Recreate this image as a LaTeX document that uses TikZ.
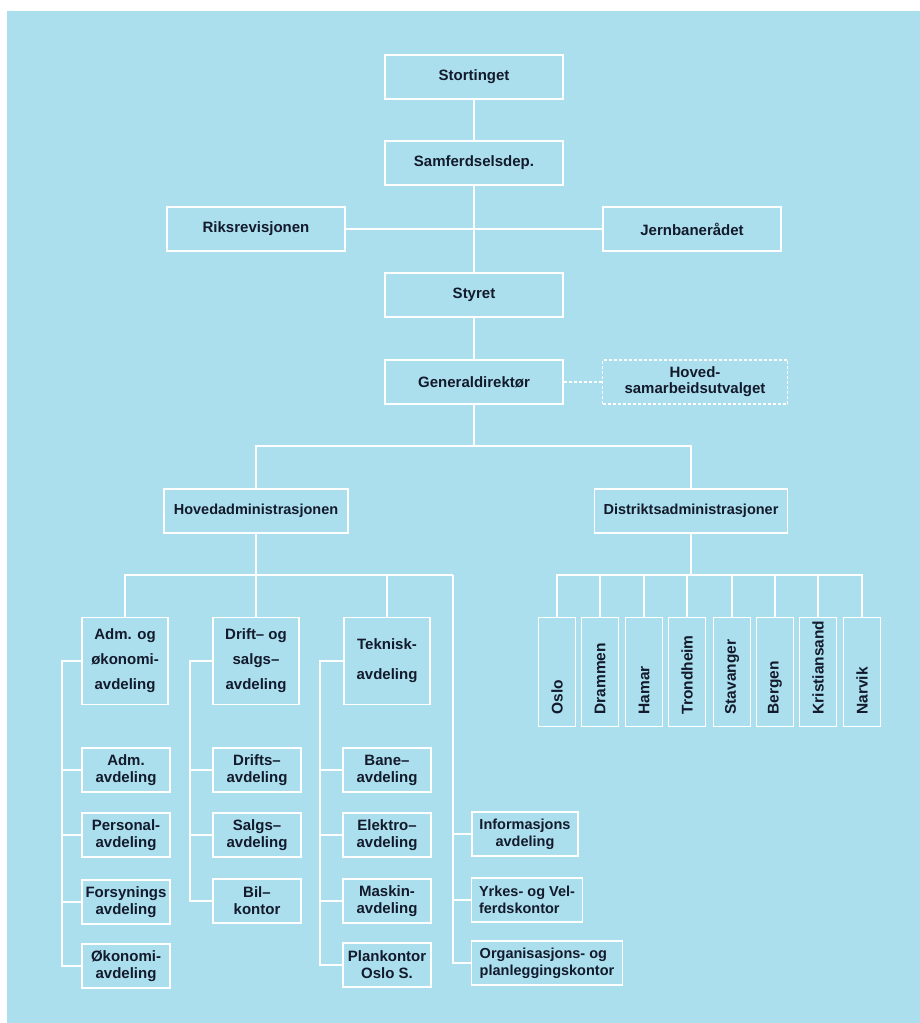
\documentclass[tikz,border=0pt]{standalone}
\usepackage{fontspec}
\setmainfont{Liberation Sans}
\usetikzlibrary{calc}
\definecolor{bakgrunn}{RGB}{172,223,237}
\definecolor{tekst}{RGB}{18,26,44}

\begin{document}
\begin{tikzpicture}[x=1pt,y=-1pt,
  boks/.style={draw=white, line width=1.4pt, inner sep=0pt, align=center, text=tekst},
  topp/.style={boks, minimum width=178pt, minimum height=44pt, font=\fontsize{15}{16}\selectfont\bfseries},
  avd/.style={boks, minimum width=86pt, minimum height=87pt, font=\fontsize{15}{25}\selectfont\bfseries},
  under/.style={boks, minimum width=88pt, minimum height=44pt, font=\fontsize{15}{17}\selectfont\bfseries},
  stab/.style={under, font=\fontsize{14.5}{17}\selectfont\bfseries},
  distr/.style={boks, rotate=90, minimum width=109pt, minimum height=37pt, text width=85pt, align=left, font=\fontsize{15.5}{16}\selectfont\bfseries},
  linje/.style={white, line width=2pt},
  stiplet/.style={dash pattern=on 3pt off 2pt}]
\useasboundingbox (0,0) rectangle (920,1023);
% Bakgrunn
\fill[white] (0,0) rectangle (920,1023);
\fill[bakgrunn] (7,11) rectangle (920,1023);
% Toppledelse
\node[topp] (sting) at (474,77) {Stortinget};
\node[topp] (samf) at (474,163) {Samferdselsdep.};
\node[topp] (riks) at (256,229) {Riksrevisjonen};
\node[topp] (jern) at (692,229) {Jernbanerådet};
\node[topp] (styret) at (474,295) {Styret};
\node[topp] (gd) at (474,382) {Generaldirektør};
\node[topp, stiplet, minimum width=185pt] (hsu) at (695,382) {Hoved-\\samarbeidsutvalget};
\node[topp, minimum width=184pt, font=\fontsize{14.5}{16}\selectfont\bfseries] (hadm) at (256,511) {Hovedadministrasjonen};
\node[topp, minimum width=193pt, font=\fontsize{14.5}{16}\selectfont\bfseries] (dadm) at (691,511) {Distriktsadministrasjoner};
% Avdelinger
\node[avd] (admok) at (125,661) {Adm. og\\økonomi-\\avdeling};
\node[avd] (drsa) at (256,661) {Drift– og\\salgs–\\avdeling};
\node[avd, font=\fontsize{15}{30}\selectfont\bfseries] (tekn) at (387,661) {Teknisk-\\avdeling};
% Under Adm. og økonomi
\node[under] (admavd) at (126,770) {Adm.\\avdeling};
\node[under] (pers) at (126,835) {Personal-\\avdeling};
\node[under] (fors) at (126,902) {Forsynings\\avdeling};
\node[under] (okon) at (126,966) {Økonomi-\\avdeling};
% Under Drift og salg
\node[under] (drifts) at (257,770) {Drifts–\\avdeling};
\node[under] (salgs) at (257,835) {Salgs–\\avdeling};
\node[under] (bil) at (257,901) {Bil–\\kontor};
% Under Teknisk
\node[under] (bane) at (387,770) {Bane–\\avdeling};
\node[under] (elek) at (387,835) {Elektro–\\avdeling};
\node[under] (mask) at (387,901) {Maskin-\\avdeling};
\node[under] (plan) at (387,965) {Plankontor\\Oslo S.};
% Staber
\node[stab, minimum width=106pt] (info) at (525,834) {Informasjons\\avdeling};
\node[stab, minimum width=111pt, align=left] (yrk) at (527,900) {Yrkes- og Vel-\\ferdskontor};
\node[stab, minimum width=151pt, align=left] (org) at (547,963) {Organisasjons- og\\planleggingskontor};
% Distrikter
\node[distr] (d1) at (557,672) {Oslo};
\node[distr] (d2) at (600,672) {Drammen};
\node[distr] (d3) at (644,672) {Hamar};
\node[distr] (d4) at (687,672) {Trondheim};
\node[distr] (d5) at (732,672) {Stavanger};
\node[distr] (d6) at (775,672) {Bergen};
\node[distr] (d7) at (818,672) {Kristiansand};
\node[distr] (d8) at (862,672) {Narvik};

% Linjer
\draw[linje] (sting) -- (samf);
\draw[linje] (samf) -- (styret);
\draw[linje] (riks) -- (jern);
\draw[linje] (styret) -- (gd);
\draw[linje, stiplet] (gd) -- (hsu);
\coordinate (j1) at (474,446);
\draw[linje] (gd) -- (j1);
\draw[linje] (hadm) |- (j1) -| (dadm);
% Hovedadministrasjonen
\coordinate (k4) at (453,575);
\draw[linje] (hadm) -- (drsa);
\draw[linje] (admok) |- (k4);
\draw[linje] (tekn) -- (tekn |- k4);
\draw[linje] (k4) |- (info);
\draw[linje] (k4) |- (yrk);
\draw[linje] (k4) |- (org);
% Kolonner
\coordinate (a0) at (62,661);
\draw[linje] (admok) -- (a0) |- (okon);
\draw[linje] (a0 |- admavd) -- (admavd);
\draw[linje] (a0 |- pers) -- (pers);
\draw[linje] (a0 |- fors) -- (fors);
\coordinate (b0) at (190,661);
\draw[linje] (drsa) -- (b0) |- (bil);
\draw[linje] (b0 |- drifts) -- (drifts);
\draw[linje] (b0 |- salgs) -- (salgs);
\coordinate (c0) at (320,661);
\draw[linje] (tekn) -- (c0) |- (plan);
\draw[linje] (c0 |- bane) -- (bane);
\draw[linje] (c0 |- elek) -- (elek);
\draw[linje] (c0 |- mask) -- (mask);
% Distriktsadministrasjoner
\coordinate (j3) at (691,575);
\draw[linje] (dadm) -- (j3);
\draw[linje] (d1) |- (j3) -| (d8);
\draw[linje] (d2) -- (d2 |- j3);
\draw[linje] (d3) -- (d3 |- j3);
\draw[linje] (d4) -- (d4 |- j3);
\draw[linje] (d5) -- (d5 |- j3);
\draw[linje] (d6) -- (d6 |- j3);
\draw[linje] (d7) -- (d7 |- j3);
\end{tikzpicture}
\end{document}
